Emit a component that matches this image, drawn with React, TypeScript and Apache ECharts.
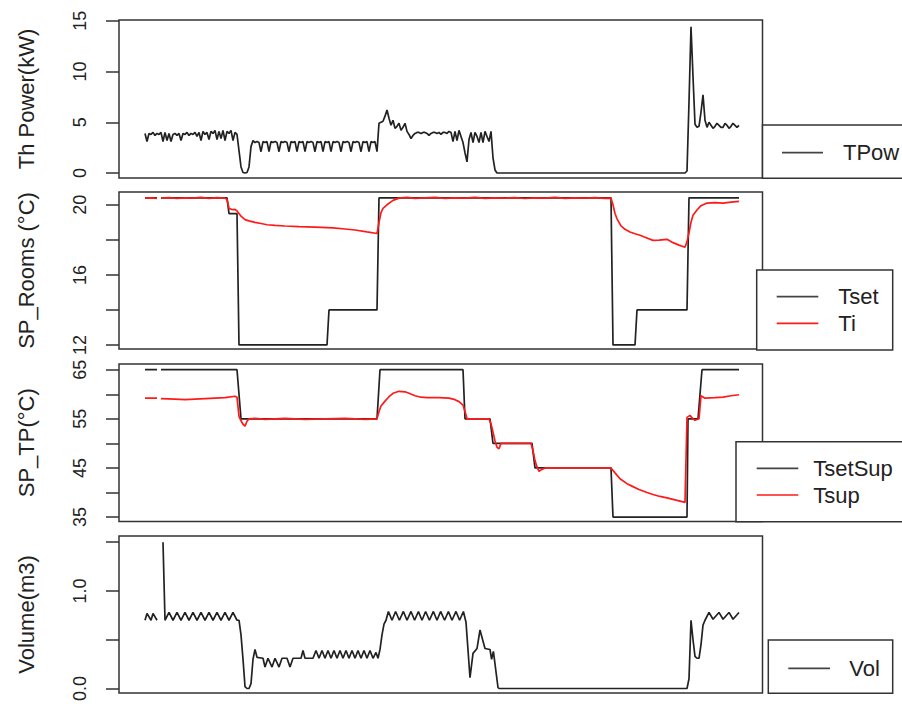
import React, { useEffect, useRef } from "react";
import * as echarts from "echarts";

// time index (hours) → value pairs
const tPow: (number | null)[][] = [
  [0, 3.9], [1, 3.1], [2, 3.9], [3, 3.8], [4, 4.0], [5, 3.7], [6, 3.9], [7, 3.8], [8, 4.0], [9, 3.1],
  [10, 4.0], [11, 3.2], [12, 3.9], [13, 3.1], [14, 3.8], [15, 3.9], [16, 3.7], [17, 3.9], [18, 3.2], [19, 3.9],
  [20, 3.8], [21, 4.0], [22, 3.7], [23, 3.9], [24, 3.8], [25, 4.0], [26, 3.6], [27, 4.0], [28, 3.2], [29, 4.1],
  [30, 3.8], [31, 4.0], [32, 3.3], [33, 4.1], [34, 3.9], [35, 4.2], [36, 3.3], [37, 4.1], [38, 3.4], [39, 4.2],
  [40, 3.2], [41, 4.1], [42, 3.9], [43, 4.2], [44, 3.2], [45, 4.0], [46, 3.8], [47, 2.2], [48, 0.6], [49, 0.05],
  [50, 0], [51, 0.05], [52, 0.6], [53, 2.6], [54, 3.2], [55, 3.0], [56, 3.1], [57, 3.0], [58, 2.1], [59, 3.1],
  [60, 3.0], [61, 3.1], [62, 2.1], [63, 3.1], [64, 3.0], [65, 3.1], [66, 3.0], [67, 2.1], [68, 3.1], [69, 3.0],
  [70, 3.1], [71, 3.0], [72, 2.1], [73, 3.1], [74, 3.0], [75, 3.1], [76, 2.1], [77, 3.1], [78, 3.0], [79, 3.1],
  [80, 2.1], [81, 3.1], [82, 3.0], [83, 3.1], [84, 3.0], [85, 2.1], [86, 3.1], [87, 3.0], [88, 3.1], [89, 2.1],
  [90, 3.1], [91, 3.0], [92, 3.1], [93, 2.1], [94, 3.1], [95, 3.0], [96, 3.1], [97, 3.0], [98, 2.1], [99, 3.1],
  [100, 3.0], [101, 3.1], [102, 3.0], [103, 2.1], [104, 3.1], [105, 3.0], [106, 3.1], [107, 3.0], [108, 2.1], [109, 3.1],
  [110, 3.0], [111, 3.1], [112, 2.1], [113, 3.1], [114, 3.0], [115, 3.1], [116, 2.1], [117, 4.9], [118, 5.0], [119, 5.1],
  [120, 5.6], [121, 6.2], [122, 5.4], [123, 4.7], [124, 5.2], [125, 4.4], [126, 4.6], [127, 4.9], [128, 4.2], [129, 4.5],
  [130, 4.9], [131, 4.1], [132, 3.8], [133, 3.4], [134, 3.7], [135, 3.9], [136, 4.0], [137, 4.0], [138, 3.9], [139, 4.0],
  [140, 4.0], [141, 3.9], [142, 3.7], [143, 3.9], [144, 4.0], [145, 4.0], [146, 3.9], [147, 4.0], [148, 3.8], [149, 4.0],
  [150, 4.0], [151, 3.9], [152, 4.1], [153, 4.0], [154, 3.1], [155, 4.1], [156, 3.2], [157, 4.2], [158, 3.6], [159, 3.0],
  [160, 2.0], [161, 1.1], [162, 3.3], [163, 4.0], [164, 3.0], [165, 4.0], [166, 3.6], [167, 3.0], [168, 4.0], [169, 3.0],
  [170, 4.1], [171, 3.6], [172, 3.1], [173, 4.1], [174, 1.5], [175, 0.3], [176, 0], [270, 0], [271, 0.2], [272, 7.0],
  [273, 14.4], [274, 9.5], [275, 4.8], [276, 4.5], [277, 4.6], [278, 6.0], [279, 7.7], [280, 5.2], [281, 4.5], [282, 5.0],
  [283, 4.7], [284, 4.4], [285, 4.6], [286, 4.9], [287, 4.7], [288, 4.5], [289, 4.5], [290, 4.9], [291, 4.7], [292, 4.4],
  [293, 4.6], [294, 4.9], [295, 4.7], [296, 4.5], [297, 4.7],
];

const tSet: (number | null)[][] = [
  [0, 20.4], [6, 20.4], [7, null], [8, 20.4], [41, 20.4], [42, 19.5], [46, 19.5], [47, 12], [91, 12], [92, 14],
  [116, 14], [117, 20.4], [233, 20.4], [234, 12], [245, 12], [246, 14], [271, 14], [272, 20.4], [297, 20.4],
];

const tI: (number | null)[][] = [
  [0, 20.38], [3, 20.4], [6, 20.37], [7, null], [8, 20.38], [12, 20.41], [16, 20.37], [20, 20.4], [24, 20.38], [28, 20.42],
  [32, 20.37], [36, 20.41], [40, 20.38], [41, 20.3], [42, 19.8], [43, 19.75], [44, 19.72], [45, 19.74], [46, 19.65], [47, 19.5],
  [48, 19.35], [49, 19.25], [50, 19.15], [52, 19.08], [55, 19.0], [58, 18.93], [61, 18.86], [65, 18.82], [70, 18.79], [77, 18.75],
  [85, 18.72], [94, 18.68], [100, 18.62], [105, 18.56], [111, 18.45], [116, 18.36], [117, 19.0], [118, 19.55], [119, 19.8], [121, 20.0],
  [124, 20.25], [127, 20.38], [131, 20.42], [135, 20.37], [140, 20.4], [145, 20.42], [150, 20.37], [155, 20.4], [160, 20.38], [165, 20.42],
  [170, 20.37], [175, 20.4], [180, 20.38], [185, 20.41], [190, 20.36], [195, 20.4], [200, 20.38], [205, 20.42], [210, 20.37], [215, 20.4],
  [220, 20.38], [225, 20.41], [230, 20.37], [233, 20.38], [234, 20.0], [235, 19.5], [236, 19.2], [238, 18.8], [240, 18.6], [242.5, 18.45],
  [245, 18.35], [247.5, 18.26], [250, 18.15], [254, 17.97], [257, 17.98], [261, 18.03], [264, 17.84], [267, 17.7], [270, 17.58], [271, 17.9],
  [272, 18.4], [273, 19.0], [274, 19.4], [276, 19.7], [278, 19.95], [281, 20.1], [285, 20.12], [289, 20.1], [293, 20.15], [297, 20.2],
];

const tSetSup: (number | null)[][] = [
  [0, 65], [6, 65], [7, null], [8, 65], [46, 65], [48, 55], [116, 55], [117.5, 65], [159, 65], [160, 55],
  [172.5, 55], [174, 50], [193.5, 50], [195, 45], [233, 45], [234, 35], [271, 35], [271.5, 55], [276.5, 55], [278.5, 65],
  [297, 65],
];

const tSup: (number | null)[][] = [
  [0, 59.2], [6, 59.2], [7, null], [8, 59.1], [15, 59.0], [20, 58.9], [25, 59.0], [30, 59.1], [35, 59.2], [40, 59.3],
  [45, 59.6], [46, 59.4], [47, 55.5], [48, 54.6], [49, 53.9], [50, 53.5], [51, 54.5], [52, 55.0], [55, 55.1], [60, 54.9],
  [70, 55.1], [80, 54.9], [90, 55.0], [100, 55.1], [110, 54.9], [116, 55.0], [117, 56.5], [118, 57.6], [120, 58.6], [122, 59.5],
  [124, 60.2], [127, 60.6], [130, 60.5], [132, 60.2], [135, 59.7], [138, 59.4], [141, 59.3], [147, 59.3], [152, 59.2], [155, 58.9],
  [157, 58.5], [159, 57.8], [160, 56.5], [161, 55.0], [172, 55.0], [173, 54.0], [174, 52.3], [175, 50.5], [176, 49.2], [177, 48.9],
  [178, 50.0], [193, 50.0], [194, 48.5], [195, 46.5], [196, 45.2], [197, 44.3], [198, 44.6], [200, 45.0], [233, 45.0], [235, 44.0],
  [237.5, 42.8], [241, 41.8], [244, 41.2], [247, 40.6], [251, 40.0], [254, 39.6], [257.5, 39.2], [261, 38.9], [264, 38.6], [267, 38.3],
  [270, 38.0], [271, 55.3], [272.5, 55.7], [274, 55.0], [275, 54.7], [277, 55.0], [278, 59.7], [280, 59.2], [285, 59.3], [289, 59.4],
  [293, 59.7], [297, 59.9],
];

const vol: (number | null)[][] = [
  [0, 0.7], [1, 0.77], [3, 0.7], [4, 0.77], [6, 0.7], [7, null], [9, 1.5], [10, 0.7], [12, 0.78], [14, 0.7],
  [16, 0.78], [18, 0.7], [20, 0.78], [22, 0.7], [24, 0.78], [26, 0.7], [28, 0.78], [30, 0.7], [32, 0.78], [34, 0.7],
  [36, 0.78], [38, 0.7], [40, 0.78], [42, 0.7], [44, 0.78], [46, 0.7], [47, 0.7], [48, 0.55], [49, 0.3], [50, 0.02],
  [51, 0], [52, 0], [53, 0.05], [54, 0.3], [55, 0.4], [56, 0.32], [59, 0.31], [60, 0.22], [61.5, 0.31], [63.5, 0.22],
  [65, 0.31], [67, 0.22], [68.5, 0.31], [71, 0.31], [72.5, 0.22], [74, 0.31], [78, 0.31], [79, 0.39], [80, 0.31], [84, 0.31],
  [85.5, 0.39], [87, 0.31], [88.5, 0.39], [90, 0.31], [91.5, 0.39], [93, 0.31], [94.5, 0.39], [96, 0.31], [97.5, 0.39], [99, 0.31],
  [100.5, 0.39], [102, 0.31], [103.5, 0.39], [105, 0.31], [106.5, 0.39], [108, 0.31], [109.5, 0.39], [111, 0.31], [112.5, 0.39], [114, 0.31],
  [115.5, 0.37], [116.5, 0.31], [117.5, 0.4], [118.5, 0.55], [119.5, 0.66], [120.5, 0.7], [121.7, 0.79], [123.5, 0.7], [125.3, 0.79], [127.2, 0.7],
  [129.2, 0.79], [131, 0.7], [133, 0.79], [134.8, 0.7], [136.7, 0.79], [138.5, 0.7], [140.3, 0.79], [142.2, 0.7], [144.2, 0.79], [146, 0.7],
  [147.8, 0.79], [149.8, 0.7], [151.7, 0.79], [153.5, 0.7], [155.5, 0.79], [157.3, 0.7], [159.2, 0.79], [160.5, 0.68], [162.5, 0.11], [164, 0.36],
  [166, 0.41], [167.5, 0.6], [170, 0.41], [172.5, 0.4], [173.3, 0.3], [174.2, 0.38], [176.5, 0.01], [177, 0], [271, 0], [272, 0.1],
  [273, 0.7], [274, 0.5], [275, 0.33], [276, 0.31], [277, 0.31], [278, 0.45], [279, 0.65], [280, 0.7], [282, 0.78], [284, 0.71],
  [287, 0.78], [289, 0.71], [292, 0.78], [294, 0.71], [297, 0.78],
];

const powTicks = [0, 5, 10, 15];
const powLabels = [0, 5, 10, 15];
const roomTicks = [12, 14, 16, 18, 20];
const roomLabels = [12, 16, 20];
const tpTicks = [35, 40, 45, 50, 55, 60, 65];
const tpLabels = [35, 45, 55, 65];
const volTicks = [0, 0.5, 1.0, 1.5];
const volLabels = [0, 1.0];

const FONT = "Liberation Sans, Arial, sans-serif";
const INK = "#222";
const BOX = "#333";

export default function App() {
  const ref = useRef<HTMLDivElement>(null);
  useEffect(() => {
    const chart = echarts.init(ref.current!, null, { renderer: "svg" });
    const grids = [
      { top: 20, height: 158 },
      { top: 192, height: 157 },
      { top: 364, height: 157.5 },
      { top: 536, height: 157.5 },
    ].map((g) => ({ left: 119, width: 643.5, top: g.top, height: g.height, show: true, borderColor: BOX, borderWidth: 1.5, backgroundColor: "transparent" }));

    const yDefs = [
      { min: -0.49, max: 15.07, ticks: powTicks, labels: powLabels, name: "Th Power(kW)", fmt: (v: number) => String(v) },
      { min: 11.77, max: 20.73, ticks: roomTicks, labels: roomLabels, name: "SP_Rooms (°C)", fmt: (v: number) => String(v) },
      { min: 34.1, max: 66.16, ticks: tpTicks, labels: tpLabels, name: "SP_TP(°C)", fmt: (v: number) => String(v) },
      { min: -0.045, max: 1.564, ticks: volTicks, labels: volLabels, name: "Volume(m3)", fmt: (v: number) => v.toFixed(1) },
    ];

    const yAxis = yDefs.map((d, i) => ({
      gridIndex: i,
      type: "value",
      position: "left",
      min: d.min,
      max: d.max,
      axisLine: { show: false, onZero: false },
      splitLine: { show: false },
      axisTick: { show: true, inside: false, length: 13, customValues: d.ticks, lineStyle: { color: BOX, width: 1.5 } },
      axisLabel: {
        customValues: d.labels,
        rotate: 90,
        margin: 30,
        fontSize: 18,
        fontFamily: FONT,
        color: INK,
        formatter: d.fmt,
      },
      name: d.name,
      nameLocation: "middle",
      nameRotate: 90,
      nameGap: 82,
      nameTextStyle: { fontSize: 22, fontFamily: FONT, color: INK },
    }));

    const xAxis = [0, 1, 2, 3].map((i) => ({ gridIndex: i, type: "value", min: -13, max: 308.75, show: false, axisLine: { onZero: false } }));

    const line = (data: any, xi: number, color: string, name: string) => ({
      type: "line",
      name,
      xAxisIndex: xi,
      yAxisIndex: xi,
      data,
      showSymbol: false,
      connectNulls: false,
      lineStyle: { color, width: 1.7 },
      itemStyle: { color },
      z: 3,
    });

    const series = [
      line(tPow, 0, "#222", "TPow"),
      line(tSet, 1, "#222", "Tset"),
      line(tI, 1, "#ff1a1a", "Ti"),
      line(tSetSup, 2, "#222", "TsetSup"),
      line(tSup, 2, "#ff1a1a", "Tsup"),
      line(vol, 3, "#222", "Vol"),
    ];

    const legendBox = (x: number, y: number, w: number, h: number) => ({
      type: "rect",
      z: 100,
      shape: { x, y, width: w, height: h },
      style: { fill: "#fff", stroke: BOX, lineWidth: 1.5 },
    });
    const legendLine = (x1: number, x2: number, y: number, color: string) => ({
      type: "line",
      z: 101,
      shape: { x1, y1: y, x2, y2: y },
      style: { stroke: color, lineWidth: 1.7 },
    });
    const legendText = (x: number, y: number, text: string) => ({
      type: "text",
      z: 101,
      x,
      y,
      style: { text, fontSize: 22, fontFamily: FONT, fill: INK, verticalAlign: "middle", align: "left" },
    });

    const graphic = [
      legendBox(762.5, 125, 160, 53.3),
      legendLine(782, 823, 152.7, "#444"),
      legendText(843, 152.7, "TPow"),

      legendBox(756.7, 270, 136, 80),
      legendLine(776.7, 818.3, 296.7, "#444"),
      legendLine(776.7, 818.3, 323.3, "#ff1a1a"),
      legendText(838.3, 296.7, "Tset"),
      legendText(838.3, 323.3, "Ti"),

      legendBox(736, 441.7, 180, 80),
      legendLine(756.7, 798.3, 468.3, "#444"),
      legendLine(756.7, 798.3, 495, "#ff1a1a"),
      legendText(813.3, 468.3, "TsetSup"),
      legendText(813.3, 495, "Tsup"),

      legendBox(768.3, 640, 124.4, 53.3),
      legendLine(788.3, 830, 668.3, "#444"),
      legendText(849.3, 668.3, "Vol"),
    ];

    chart.setOption({
      animation: false,
      backgroundColor: "#fff",
      grid: grids,
      xAxis,
      yAxis,
      series,
      graphic,
    } as any);
    return () => chart.dispose();
  }, []);
  return <div ref={ref} style={{ position: "absolute", left: 0, top: 0, width: 902, height: 704, background: "#fff" }} />;
}
